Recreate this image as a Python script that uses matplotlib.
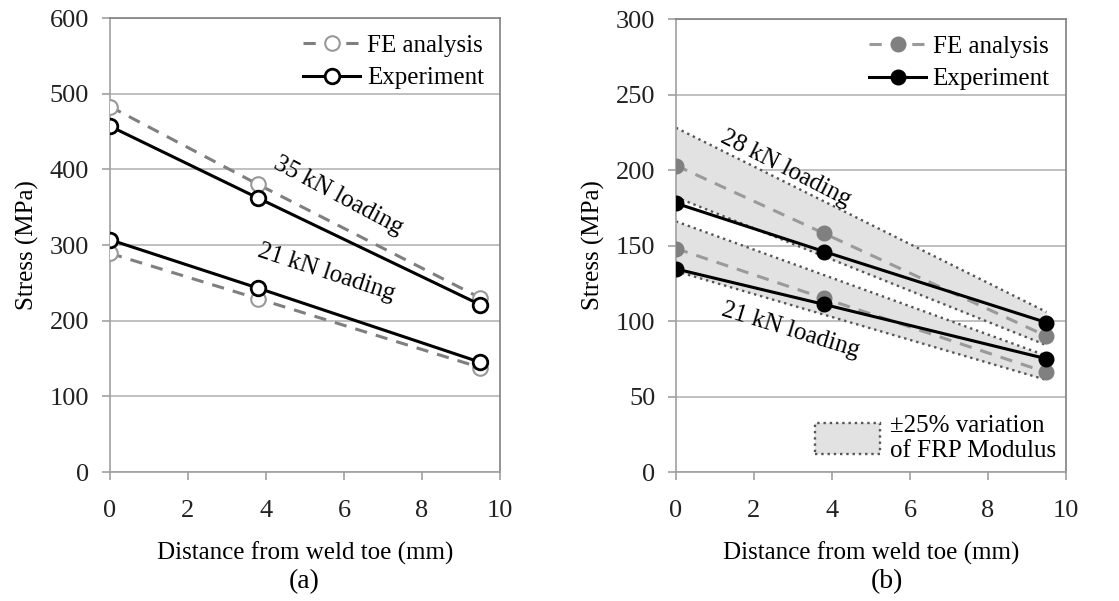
import matplotlib
matplotlib.use('Agg')
from matplotlib import pyplot as plt
from matplotlib.lines import Line2D
from matplotlib.patches import Patch
import numpy as np

plt.rcParams['font.family'] = ['Liberation Serif', 'DejaVu Serif']

# distance from weld toe (mm)
dist = [0, 3.8, 9.5]

# (a) stresses, MPa
fe_35 = [483, 380, 230]
exp_35 = [457, 362, 221]
fe_21a = [289, 229, 138]
exp_21a = [307, 243, 145]

# (b) stresses, MPa
fe_28 = [203, 158, 90]
exp_28 = [178, 146, 99]
fe_21b = [148, 115, 66]
exp_21b = [134.5, 111, 75]

# +/-25% FRP modulus envelopes (ends at x=0 and x=9.5)
band_x = [0, 9.5]
band_28_hi = [228, 106]
band_28_lo = [182, 84]
band_21_hi = [166, 77]
band_21_lo = [133, 61]

GRAY = '#7f7f7f'
GRID = '#b5b5b5'
FS = 18

fig = plt.figure(figsize=(11.19, 6.01), dpi=100)
ax1 = fig.add_axes([0.0983, 0.2146, 0.3485, 0.7554])
ax2 = fig.add_axes([0.6041, 0.2146, 0.3485, 0.7537])


def style_axes(ax, ymax, ystep):
    ax.set_xlim(0, 10)
    ax.set_ylim(0, ymax)
    ax.set_xticks(range(0, 11, 2))
    ax.set_yticks(np.arange(0, ymax + 1, ystep))
    ax.yaxis.grid(True, color=GRID, linewidth=1.2)
    ax.set_axisbelow(True)
    for s in ['left', 'bottom']:
        ax.spines[s].set_color('#a0a0a0')
        ax.spines[s].set_linewidth(1.2)
    for s in ['top', 'right']:
        ax.spines[s].set_color('#808080')
        ax.spines[s].set_linewidth(1.2)
    ax.tick_params(direction='out', length=6, width=1.2, color='#a0a0a0',
                   labelsize=19, labelcolor='#222222')
    ax.tick_params(axis='y', pad=9)
    ax.tick_params(axis='x', pad=14)
    ax.set_xlabel('Distance from weld toe (mm)', fontsize=FS, labelpad=14)
    ax.set_ylabel('Stress (MPa)', fontsize=FS, labelpad=8)


# ---- (a) ----
style_axes(ax1, 600, 100)
for fe, ex in [(fe_35, exp_35), (fe_21a, exp_21a)]:
    ax1.plot(dist, fe, '--', color=GRAY, lw=2.2, dashes=(4, 3),
             marker='o', ms=10.5, mfc='white', mec='#999999', mew=1.5, zorder=3)
    ax1.plot(dist, ex, '-', color='black', lw=2.2,
             marker='o', ms=10.5, mfc='white', mec='black', mew=2, zorder=4)

ax1.text(5.85, 365, '35 kN loading', fontsize=FS, rotation=-28,
         ha='center', va='center')
ax1.text(5.55, 264, '21 kN loading', fontsize=FS, rotation=-18,
         ha='center', va='center')

h1 = [Line2D([], [], ls='--', dashes=(4, 3), color=GRAY, lw=2.2, marker='o',
             ms=10.5, mfc='white', mec='#999999', mew=1.5),
      Line2D([], [], ls='-', color='black', lw=2.2, marker='o', ms=10.5,
             mfc='white', mec='black', mew=2)]
ax1.legend(h1, ['FE analysis', 'Experiment'], loc='upper right',
           frameon=False, fontsize=FS, handlelength=2.3, handletextpad=0.25,
           labelspacing=0.4, borderaxespad=0.3, borderpad=0.35)
fig.text(0.272, 0.032, '(a)', fontsize=20, ha='center', va='center')

# ---- (b) ----
style_axes(ax2, 300, 50)
for hi, lo in [(band_28_hi, band_28_lo), (band_21_hi, band_21_lo)]:
    ax2.fill_between(band_x, lo, hi, color='#e2e2e2', lw=0, zorder=1)
    ax2.plot(band_x, hi, ':', color='#555555', lw=1.7, zorder=2)
    ax2.plot(band_x, lo, ':', color='#555555', lw=1.7, zorder=2)

for fe, ex in [(fe_28, exp_28), (fe_21b, exp_21b)]:
    ax2.plot(dist, fe, '--', color='#9a9a9a', lw=2.2, dashes=(4, 3),
             marker='o', ms=10.5, mfc='#808080', mec='#808080', zorder=3)
    ax2.plot(dist, ex, '-', color='black', lw=2.2,
             marker='o', ms=10.5, mfc='black', mec='black', zorder=4)

ax2.text(2.82, 201, '28 kN loading', fontsize=FS, rotation=-27,
         ha='center', va='center')
ax2.text(2.95, 94, '21 kN loading', fontsize=FS, rotation=-17,
         ha='center', va='center')

h2 = [Line2D([], [], ls='--', dashes=(4, 3), color='#9a9a9a', lw=2.2,
             marker='o', ms=10.5, mfc='#808080', mec='#808080'),
      Line2D([], [], ls='-', color='black', lw=2.2, marker='o', ms=10.5,
             mfc='black', mec='black')]
leg = ax2.legend(h2, ['FE analysis', 'Experiment'], loc='upper right',
                 frameon=False, fontsize=FS, handlelength=2.3,
                 handletextpad=0.25, labelspacing=0.4, borderaxespad=0.3,
                 borderpad=0.35)
ax2.add_artist(leg)
band_patch = Patch(facecolor='#e2e2e2', edgecolor='#555555', ls=':', lw=1.7)
ax2.legend([band_patch], ['\u00b125% variation\nof FRP Modulus'],
           loc='lower right', frameon=False, fontsize=FS, handlelength=2.6,
           handleheight=1.5, handletextpad=0.4, borderaxespad=0.1,
           borderpad=0.3, labelspacing=0.1)
fig.text(0.793, 0.032, '(b)', fontsize=20, ha='center', va='center')

fig.savefig('out.png', dpi=100)
